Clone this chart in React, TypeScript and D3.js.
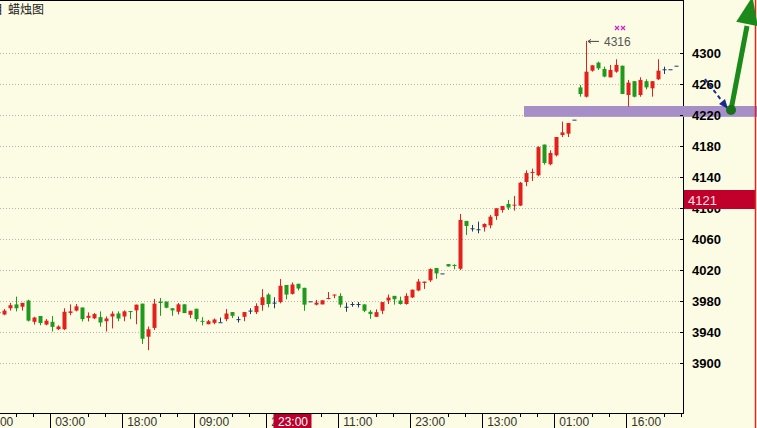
import React from "react";
import * as d3 from "d3";

// OHLC data, one entry per candle (left to right)
const opens = [3966,3963,3971,3976,3973,3981,3953.5,3961,3950,3953.5,3944,3944,3965,3968,3972,3958.7,3958,3959.6,3954.3,3960.4,3964.3,3960.4,3967.4,3968.3,3977,3934.3,3945.7,3979.6,3979.6,3971,3966.5,3976.1,3962.6,3970.4,3954.8,3950.4,3952.2,3953,3957,3966.1,3957,3960,3968,3966,3975.2,3988.7,3978.3,3979,4001,3989.6,4002.6,3997.4,3980,3975.7,3976,3983,3987.8,3987,3973,3976.5,3976.5,3976,3966.5,3960,3967.8,3981,3987,3981,3976.5,3985,3994,4003.7,4007,4023,4016,4028,4027,4022,4083.7,4074.2,4073,4075.5,4078,4090,4097.8,4105.6,4103.9,4103.5,4134,4145.6,4142.6,4182.2,4156.8,4168.4,4194.6,4196.3,4214.4,4256,4244,4277.6,4288,4279.8,4269,4276.3,4284,4246.2,4264,4246.2,4264,4254.8,4266.5,4279.4,4279.4,4284];
const highs = [3967,3970,3978,3986,3978,3982,3960,3961,3957,3961,3949,3971,3976,3976.5,3972,3965.7,3965,3967,3960.4,3967,3967,3968.3,3967.4,3975.7,3977,3947.4,3983,3984.3,3979.6,3971,3977.8,3976.1,3967.8,3970.4,3959.6,3956,3957.8,3959,3970,3966.1,3960.4,3966.1,3971,3977.4,3995.7,3990.4,3985.2,4008.7,4001,4004.3,4002.6,3997.4,3980,3981.7,3981.3,3992,3988.7,3990.4,3978.3,3979,3979,3976,3968.7,3969.6,3979,3988.7,3987,3986,3990.4,3995,4008.8,4005.4,4022.5,4023,4016,4028,4027.7,4092.7,4083.7,4078.5,4082.8,4080.6,4091.4,4100,4103,4110.8,4116,4134,4149,4151.2,4180,4182.2,4174.8,4192,4211.8,4210,4214.4,4259,4316,4284.5,4289.2,4282.8,4285,4292.3,4284,4265.6,4264,4269,4266.5,4264,4292.3,4282.8,4279.4,4284];
const lows = [3965,3962,3968,3967,3968,3954,3950,3949,3949,3941,3943,3943,3962,3967,3954,3954,3957,3947.4,3941,3945,3954.3,3954.3,3957,3950.4,3925,3917,3943,3961.3,3971,3961.3,3963,3964.8,3958.3,3954,3949,3950.4,3950.4,3953,3954.3,3958.3,3952.6,3954.3,3963.5,3963.5,3967.8,3972.2,3971,3977.4,3982.6,3988.7,3994,3967.8,3980,3974.8,3976,3982.6,3984,3972.2,3966.5,3973,3972,3966,3957.4,3960,3963.5,3976.5,3975.7,3975.7,3975.7,3984.3,3993,3996,4005,4009,4016,4025,4021.3,4020.4,4065.6,4070,4067.7,4070,4074.2,4085,4094.4,4097.8,4097,4103,4128.5,4135.3,4141.3,4156.3,4155.5,4167,4192,4192,4214.4,4244,4243,4276.3,4278.5,4269,4269,4275,4247.5,4231.2,4243.2,4244,4253.5,4244,4265.6,4273.3,4279.4,4284];
const closes = [3966,3968,3975,3971,3978,3955,3959,3952,3955,3947,3947.5,3966.5,3967,3973.5,3957,3961.3,3963.5,3952.6,3957.8,3964,3957.8,3967,3966.7,3975.7,3931.7,3943.9,3977,3977.8,3971.7,3968.3,3976.1,3964.8,3967.8,3957,3953.5,3954.3,3956.5,3953,3964.3,3961.3,3957,3966.1,3968,3974,3985.2,3976.5,3978.3,4000,3988.7,4001.7,3996.5,3975.7,3980,3978.3,3981.3,3984.3,3988.7,3975.7,3973,3976.5,3976.5,3967.8,3963.5,3966,3979,3984.8,3982.6,3976.5,3987,3995,4005.5,4005.4,4021.5,4016,4016,4025,4025.6,4085,4077.2,4074.2,4073,4079.8,4089.2,4100,4103,4100.9,4104.7,4133,4145.5,4147,4179,4158.5,4171.4,4192,4198,4210,4214.4,4247.5,4276.3,4284.5,4280.6,4270,4278.5,4285,4247.5,4262.2,4244,4265.6,4256,4264,4277.6,4279.4,4279.4,4284];

const priceTicks = [4300, 4260, 4220, 4180, 4140, 4100, 4060, 4020, 3980, 3940, 3900];
const timeLabels = ["12:00", "03:00", "18:00", "09:00", "23:00", "11:00", "23:00", "13:00", "01:00", "16:00"];
const highlightedLabel = 4;
const titleText = "蜡烛图";
const lastPrice = "4121";
const peakLabel = "4316";
const bandLow = 4218;
const bandHigh = 4232;

const W = 757;
const H = 428;
const plotRight = 683;
const plotBottom = 413;

const UP = "#e3201b";
const DOWN = "#1f9a1c";
const FLAT = "#1d3a6e";
const BG = "#fcfce4";

export default function App() {
  const n = opens.length;
  const x = d3.scaleLinear().domain([0, n - 1]).range([-2, 676]);
  const y = d3.scaleLinear().domain([3900, 4300]).range([363.3, 53.3]);
  const bodyW = 4;

  const tickIdx = timeLabels.map((_, k) => -3.3 + 12 * k);
  const minorIdx: number[] = [];
  tickIdx.forEach((t) => {
    minorIdx.push(t + 38 / 6, t + 55 / 6);
  });

  const peakIdx = highs.indexOf(d3.max(highs) as number);
  const px = x(peakIdx);
  const py = y(highs[peakIdx]);

  // arrow geometry
  const ax0 = 731, ay0 = 110;
  const dir = [0.196, -0.98];
  const perp = [0.98, 0.196];
  const baseC = [747, 24];
  const headL = [baseC[0] - 11 * perp[0], baseC[1] - 11 * perp[1]];
  const headR = [baseC[0] + 11 * perp[0], baseC[1] + 11 * perp[1]];
  const tip = [baseC[0] + 28 * dir[0], baseC[1] + 28 * dir[1]];

  return (
    <svg width={W} height={H} style={{ position: "absolute", left: 0, top: 0, background: BG }}>
      <rect x={0} y={0} width={W} height={H} fill={BG} />
      {/* grid */}
      {priceTicks.map((v) => (
        <line key={"g" + v} x1={0} x2={plotRight} y1={Math.round(y(v)) + 0.5} y2={Math.round(y(v)) + 0.5}
          stroke="#b4b4a8" strokeWidth={1} strokeDasharray="1,2" />
      ))}
      {/* frame */}
      <line x1={0} x2={plotRight} y1={0.5} y2={0.5} stroke="#000" />
      <line x1={plotRight + 0.5} x2={plotRight + 0.5} y1={0} y2={plotBottom} stroke="#000" />
      <line x1={0} x2={plotRight + 1} y1={plotBottom + 0.5} y2={plotBottom + 0.5} stroke="#000" />
      {/* title */}
      <text x={-9} y={14} fontFamily="'Noto Sans CJK SC'" fontSize={12} fill="#222">目</text>
      <text x={8} y={14} fontFamily="'Noto Sans CJK SC'" fontSize={12} fill="#222">{titleText}</text>

      {/* band */}
      <rect x={524} y={y(bandHigh)} width={W - 524} height={y(bandLow) - y(bandHigh)} fill="#a58fc6" />

      {/* candles */}
      {opens.map((o, i) => {
        const c = closes[i];
        const col = c > o ? UP : c < o ? DOWN : FLAT;
        const cx = Math.round(x(i));
        const top = y(Math.max(o, c));
        const bot = y(Math.min(o, c));
        const h = Math.max(1, bot - top);
        return (
          <g key={"c" + i}>
            <line x1={cx + 0.5} x2={cx + 0.5} y1={y(highs[i])} y2={y(lows[i])} stroke={col} strokeWidth={1} />
            <rect x={cx - bodyW / 2 + 0.5} y={top} width={bodyW} height={h} fill={col} />
          </g>
        );
      })}

      {/* peak annotation */}
      <line x1={px + 2} x2={px + 13} y1={py + 0.5} y2={py + 0.5} stroke="#444" strokeWidth={1} />
      <path d={`M${px + 2},${py + 0.5} L${px + 5},${py - 1.5} M${px + 2},${py + 0.5} L${px + 5},${py + 2.5}`} stroke="#444" strokeWidth={1} fill="none" />
      <text x={px + 18} y={py + 5} fontFamily="'Liberation Sans', Arial" fontSize={12} fill="#555">{peakLabel}</text>
      {[617, 623].map((mx) => (
        <path key={"m" + mx} d={`M${mx - 2},${26} L${mx + 2},${30} M${mx + 2},${26} L${mx - 2},${30}`} stroke="#d020d0" strokeWidth={1.2} />
      ))}

      {/* right axis */}
      {priceTicks.map((v) => (
        <g key={"t" + v}>
          <line x1={plotRight - 3} x2={plotRight} y1={Math.round(y(v)) + 0.5} y2={Math.round(y(v)) + 0.5} stroke="#000" />
          <text x={692} y={y(v) + 4.5} fontFamily="'Liberation Sans', Arial" fontWeight="bold" fontSize={13} fill="#000">{v}</text>
        </g>
      ))}
      {/* last price box */}
      <rect x={plotRight + 1} y={190} width={71} height={19} fill="#c0002a" />
      <text x={688} y={204.5} fontFamily="'Liberation Sans', Arial" fontSize={13} fill="#ffe4ea">{lastPrice}</text>
      <line x1={755.5} x2={755.5} y1={0} y2={H} stroke="#d42a2a" strokeWidth={1.5} />

      {/* dashed arrow */}
      <line x1={705} y1={79} x2={722} y2={101} stroke="#1a2a8c" strokeWidth={2} strokeDasharray="4,3" />
      <path d="M728,109 L719,104 L725,99 Z" fill="#1a2a8c" />
      {/* green arrow */}
      <line x1={ax0} y1={ay0} x2={baseC[0]} y2={baseC[1] + 2} stroke="#1b8a1b" strokeWidth={5} />
      <path d={`M${tip[0]},${tip[1]} L${headL[0]},${headL[1]} L${headR[0]},${headR[1]} Z`} fill="#1b8a1b" />
      <circle cx={ax0} cy={ay0} r={5} fill="#167216" />

      {/* bottom axis */}
      {tickIdx.map((t, k) => (
        <line key={"mt" + k} x1={Math.round(x(t)) + 0.5} x2={Math.round(x(t)) + 0.5} y1={plotBottom} y2={H} stroke="#000" />
      ))}
      {minorIdx.map((t, k) => (
        <line key={"mn" + k} x1={Math.round(x(t)) + 0.5} x2={Math.round(x(t)) + 0.5} y1={plotBottom} y2={plotBottom + 4} stroke="#000" />
      ))}
      {timeLabels.map((lab, k) => (
        <text key={"tl" + k} x={x(tickIdx[k]) + 5} y={426} fontFamily="'Liberation Sans', Arial" fontSize={12} fill="#333">{lab}</text>
      ))}
      <rect x={273.5} y={414} width={38} height={14} fill="#b8002a" />
      <text x={278} y={426} fontFamily="'Liberation Sans', Arial" fontSize={12} fill="#fff">{timeLabels[highlightedLabel]}</text>
    </svg>
  );
}
